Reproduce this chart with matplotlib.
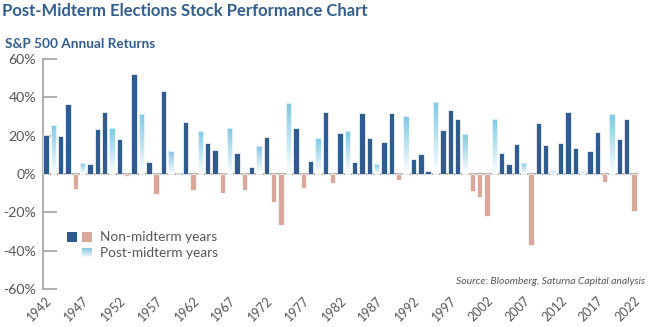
import numpy as np
import matplotlib
matplotlib.use("Agg")
import matplotlib.pyplot as plt
from matplotlib import font_manager
from matplotlib.colors import LinearSegmentedColormap
from matplotlib.patches import Rectangle

# ---------------- data ----------------
years = list(range(1942, 2023))
returns = [
    20.2, 25.6, 19.7, 36.3, -8.0, 5.7, 5.4, 23.7, 32.5, 23.8,   # 1942-1951
    18.1, -0.9, 52.2, 31.3, 6.4, -10.6, 43.3, 11.8, 0.5, 27.0,  # 1952-1961
    -8.5, 22.6, 16.3, 12.3, -9.9, 23.8, 11.0, -8.3, 3.8, 14.4,  # 1962-1971
    19.1, -14.6, -26.4, 37.2, 24.0, -7.1, 6.6, 18.6, 32.5, -4.9, # 1972-1981
    21.6, 22.4, 6.3, 31.7, 18.6, 5.2, 16.5, 31.7, -3.0, 30.3,    # 1982-1991
    7.7, 10.3, 1.4, 37.6, 23.0, 33.4, 28.7, 20.9, -9.0, -11.8,   # 1992-2001
    -22.1, 28.7, 11.0, 5.0, 15.8, 5.6, -36.9, 26.4, 15.1, 2.1,   # 2002-2011
    16.0, 32.3, 13.6, 1.6, 12.0, 21.9, -4.3, 31.3, 18.4, 28.7,   # 2012-2021
    -19.3,                                                      # 2022
]
post_midterm_years = [1943, 1947, 1951, 1955, 1959, 1963, 1967, 1971, 1975,
                      1979, 1983, 1987, 1991, 1995, 1999, 2003, 2007, 2011,
                      2015, 2019]
xtick_years = list(range(1942, 2023, 5))
ytick_values = [-60, -40, -20, 0, 20, 40, 60]
title = "Post-Midterm Elections Stock Performance Chart"
subtitle = "S&P 500 Annual Returns"
legend_labels = ["Non-midterm years", "Post-midterm years"]
source = "Source: Bloomberg, Saturna Capital analysis"

# ---------------- style ----------------
DARK = "#2f5b8e"
PINK = "#d9a89b"
LIGHT = "#7ec8e3"
TITLE_C = "#325d8f"
GRAY_TXT = "#555555"
GRAY_LINE = "#9a9a9a"

avail = {f.name for f in font_manager.fontManager.ttflist}
body_font = "Lato" if "Lato" in avail else "DejaVu Sans"

W, H = 650, 327
fig = plt.figure(figsize=(W / 100, H / 100), dpi=100)

ax_l, ax_r, ax_t, ax_b = 43, 637.7, 59, 289
ax = fig.add_axes([ax_l / W, 1 - ax_b / H, (ax_r - ax_l) / W, (ax_b - ax_t) / H])

bw = 0.73
colors = []
for y, v in zip(years, returns):
    if v < 0:
        colors.append(PINK)
    elif y in post_midterm_years:
        colors.append("none")
    else:
        colors.append(DARK)

ax.axhline(0, color="#b0b0b0", lw=1.4, zorder=1)
bars = ax.bar(years, returns, width=bw, color=colors, edgecolor="white",
              linewidth=0.5, zorder=3)

grad = np.linspace(1, 0, 256).reshape(-1, 1)
cmap = LinearSegmentedColormap.from_list("g", ["#ffffff", LIGHT])
for rect, y, v in zip(bars, years, returns):
    if y in post_midterm_years and v >= 0:
        x0, y0 = rect.get_x(), rect.get_y()
        w, h = rect.get_width(), rect.get_height()
        im = ax.imshow(grad, cmap=cmap, vmin=0, vmax=1, aspect="auto",
                       origin="upper", extent=[x0, x0 + w, y0, y0 + h],
                       zorder=2, interpolation="bilinear")
        im.set_clip_path(rect)

ax.set_xlim(1942 - bw / 2 - 0.03, 2022.5)
ax.set_ylim(-60, 60)

for s in ["top", "right", "bottom"]:
    ax.spines[s].set_visible(False)
ax.spines["left"].set_color(GRAY_LINE)
ax.spines["left"].set_linewidth(1.1)

ax.set_yticks(ytick_values)
ax.set_yticklabels([f"{v}%" for v in ytick_values])
ax.tick_params(axis="y", direction="in", length=10, width=1.1, color=GRAY_LINE,
               labelsize=10.2, labelcolor=GRAY_TXT, pad=5)
for lab in ax.get_yticklabels():
    lab.set_fontfamily(body_font)

ax.set_xticks(xtick_years)
ax.set_xticklabels([str(y) for y in xtick_years], rotation=45, ha="right",
                   rotation_mode="anchor", fontfamily=body_font)
ax.tick_params(axis="x", length=0, labelsize=9, labelcolor=GRAY_TXT, pad=4)

# ---------------- texts ----------------
fig.text(2 / W, 1 - 10.5 / H, title, fontfamily=body_font, fontweight="bold",
         fontsize=12.0, color=TITLE_C, va="center", ha="left")
fig.text(5 / W, 1 - 44 / H, subtitle, fontfamily=body_font, fontweight="bold",
         fontsize=9.8, color=TITLE_C, va="center", ha="left")
fig.text(645 / W, 1 - 281 / H, source, fontfamily=body_font, style="italic",
         fontsize=7.5, color=GRAY_TXT, va="center", ha="right")

# ---------------- legend ----------------
def fig_rect(x0, y0, x1, y1, color):
    fig.patches.append(Rectangle((x0 / W, 1 - y1 / H), (x1 - x0) / W, (y1 - y0) / H,
                                 transform=fig.transFigure, facecolor=color,
                                 edgecolor="none"))

fig_rect(67, 232, 77, 242, DARK)
fig_rect(82, 232, 92, 242, PINK)
lax = fig.add_axes([82 / W, 1 - 258 / H, 10 / W, 10 / H])
lax.imshow(grad, cmap=cmap, vmin=0, vmax=1, aspect="auto", origin="upper",
           extent=[0, 1, 0, 1], interpolation="bilinear")
lax.set_axis_off()
fig.text(100 / W, 1 - 237 / H, legend_labels[0], fontfamily=body_font,
         fontsize=9.8, color=GRAY_TXT, va="center", ha="left")
fig.text(100 / W, 1 - 253 / H, legend_labels[1], fontfamily=body_font,
         fontsize=9.8, color=GRAY_TXT, va="center", ha="left")

fig.savefig("out.png", dpi=100)
